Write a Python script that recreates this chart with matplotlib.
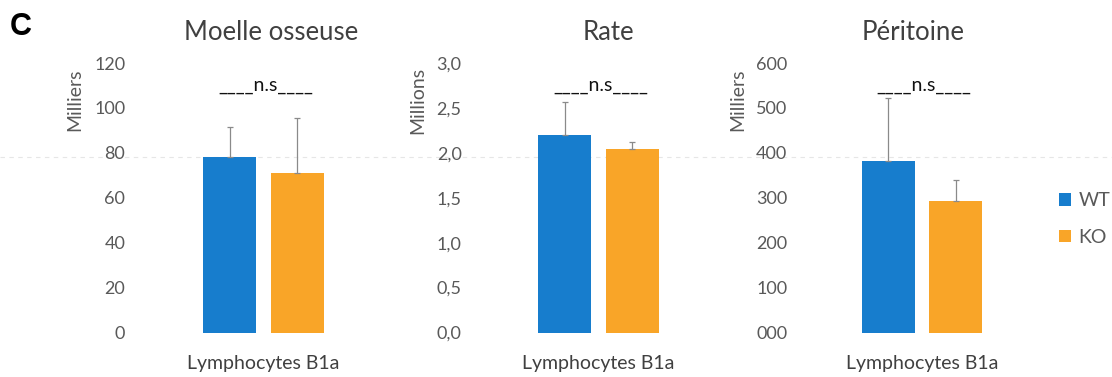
import matplotlib
matplotlib.use("Agg")
import matplotlib.pyplot as plt
from matplotlib.patches import Patch
from matplotlib.lines import Line2D

# ---- data ----
panel_titles = ["Moelle osseuse", "Rate", "Péritoine"]
unit_labels = ["Milliers", "Millions", "Milliers"]
category = "Lymphocytes B1a"
groups = ["WT", "KO"]
wt_values = [78.0, 2.20, 381.0]
ko_values = [71.0, 2.04, 292.0]
wt_errors = [13.3, 0.37, 141.0]
ko_errors = [24.5, 0.08, 47.0]
ytick_values = [
    [0, 20, 40, 60, 80, 100, 120],
    [0.0, 0.5, 1.0, 1.5, 2.0, 2.5, 3.0],
    [0, 100, 200, 300, 400, 500, 600],
]
ytick_labels = [
    ["0", "20", "40", "60", "80", "100", "120"],
    ["0,0", "0,5", "1,0", "1,5", "2,0", "2,5", "3,0"],
    ["000", "100", "200", "300", "400", "500", "600"],
]
sig_label = "____n.s____"

# ---- style ----
W, H = 1112, 377
plt.rcParams['font.family'] = ['Lato', 'DejaVu Sans']
blue = "#177dcd"
orange = "#f9a528"
grey_text = "#595959"

fig = plt.figure(figsize=(W / 100, H / 100), dpi=100)

def fx(px):
    return px / W

def fy(py):
    return 1 - py / H

ax_lefts = [135, 470, 793.5]
ax_w = 257
ytop, ybot = 63, 332.5
tick_pads = [7, 6, 4.5]
ylabel_x = [75, 418, 738]
title_x = [271, 608, 913]
offset = 0.263
bw = 0.41

for i in range(3):
    ax = fig.add_axes([fx(ax_lefts[i]), fy(ybot), fx(ax_w), (ybot - ytop) / H])
    ax.set_xlim(-1, 1)
    ax.set_ylim(ytick_values[i][0], ytick_values[i][-1])
    ax.bar([-offset], [wt_values[i]], width=bw, color=blue)
    ax.bar([offset], [ko_values[i]], width=bw, color=orange)
    ax.errorbar([-offset, offset], [wt_values[i], ko_values[i]],
                yerr=[[0, 0], [wt_errors[i], ko_errors[i]]],
                fmt='none', ecolor="#8a8a8a", elinewidth=0.9, capsize=2.5, capthick=0.9)
    ax.set_yticks(ytick_values[i])
    ax.set_yticklabels(ytick_labels[i])
    ax.set_xticks([0])
    ax.set_xticklabels([category])
    ax.tick_params(axis='y', length=0, pad=tick_pads[i], labelsize=13, labelcolor=grey_text)
    ax.tick_params(axis='x', length=0, pad=16, labelsize=14, labelcolor="#404040")
    for s in ax.spines.values():
        s.set_visible(False)
    ax.patch.set_alpha(0)
    fig.text(fx(title_x[i]), fy(33), panel_titles[i], ha='center', va='center',
             fontsize=18.5, color="#404040")
    fig.text(fx(ax_lefts[i] + ax_w / 2 + 2), fy(86), sig_label, ha='center', va='center',
             fontsize=14, color="#111111")
    fig.text(fx(ylabel_x[i]), fy(100), unit_labels[i], rotation=90, ha='center', va='center',
             fontsize=14, color=grey_text)

# faint horizontal scan line
fig.add_artist(Line2D([0, 1], [fy(157), fy(157)], transform=fig.transFigure,
                      color="#e6e6e6", lw=0.8, ls=(0, (4, 4)), zorder=-1))

fig.text(fx(10), fy(27), "C", fontsize=22, fontweight='bold', ha='left', va='center',
         family=['Liberation Sans', 'DejaVu Sans'])

handles = [Patch(facecolor=blue, label=groups[0]), Patch(facecolor=orange, label=groups[1])]
fig.legend(handles=handles, loc='center left', bbox_to_anchor=(fx(1059), fy(219)),
           frameon=False, handlelength=0.6, handleheight=0.6, handletextpad=0.4,
           borderpad=0, borderaxespad=0,
           labelspacing=1.0, fontsize=14, labelcolor=grey_text)

fig.savefig("out.png", dpi=100)
